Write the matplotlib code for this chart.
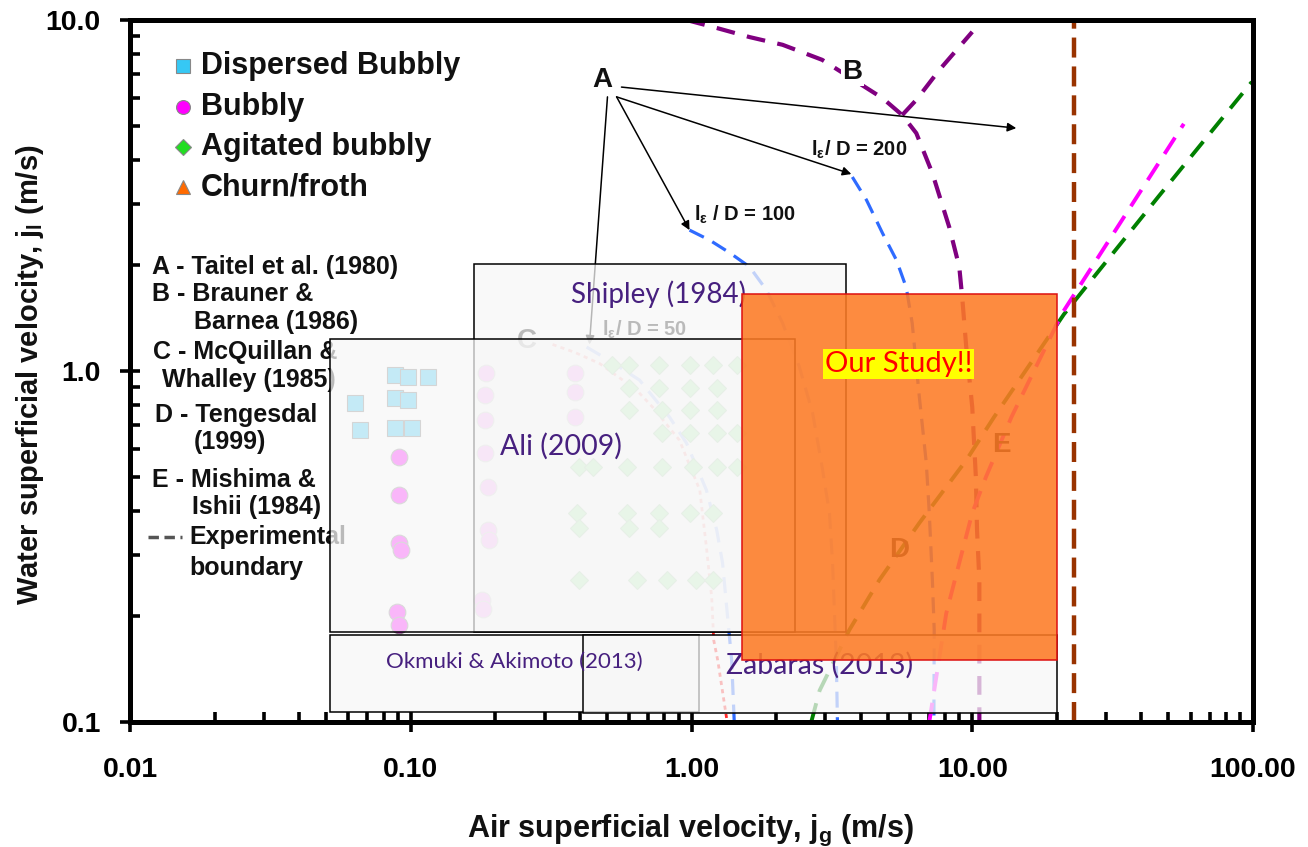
import matplotlib
matplotlib.use('Agg')
import matplotlib.pyplot as plt
from matplotlib.patches import Rectangle
from matplotlib.lines import Line2D
from matplotlib.ticker import NullFormatter, LogLocator

plt.rcParams['font.family'] = ['Liberation Sans', 'DejaVu Sans']
plt.rcParams['mathtext.fontset'] = 'custom'
plt.rcParams['mathtext.rm'] = 'Liberation Sans:bold'
plt.rcParams['mathtext.it'] = 'Liberation Sans:bold'
plt.rcParams['mathtext.bf'] = 'Liberation Sans:bold'

# --- observed regimes (jg, jl in m/s) ---
disp_jg = [0.0632, 0.0659, 0.0877, 0.0975, 0.115, 0.0877, 0.0975, 0.0877, 0.101]
disp_jl = [0.81, 0.68, 0.975, 0.96, 0.96, 0.838, 0.826, 0.69, 0.686]

bubbly_jg = [0.091, 0.091, 0.091, 0.092, 0.089, 0.091,
             0.186, 0.184, 0.184, 0.184, 0.188, 0.188, 0.190, 0.180, 0.181,
             0.384, 0.386, 0.384]
bubbly_jl = [0.569, 0.443, 0.324, 0.310, 0.206, 0.189,
             0.987, 0.855, 0.725, 0.583, 0.468, 0.352, 0.330, 0.223, 0.210,
             0.99, 0.87, 0.74]

agit_jg = [0.523, 0.601, 0.769, 0.984, 1.19, 1.45,
           0.601, 0.769, 0.984, 1.23,
           0.601, 0.788, 0.984, 1.23,
           0.788, 0.984, 1.23, 1.45,
           0.399, 0.444, 0.587, 0.788, 1.01, 1.23, 1.45,
           0.390, 0.587, 0.769, 0.984, 1.19,
           0.399, 0.601, 0.769,
           0.399, 0.637, 0.815, 1.04, 1.19]
agit_jl = [1.04] * 6 + [0.895] * 4 + [0.774] * 4 + [0.666] * 4 + \
          [0.532] * 7 + [0.394] * 5 + [0.357] * 3 + [0.254] * 5

# --- transition boundaries ---
taitel50_jg = [0.423, 0.511, 0.653, 0.835, 0.960, 1.13, 1.23, 1.29, 1.34, 1.39, 1.42]
taitel50_jl = [1.17, 1.07, 0.942, 0.739, 0.623, 0.458, 0.352, 0.284, 0.205, 0.150, 0.1]
taitel100_jg = [0.984, 1.16, 1.37, 1.61, 1.85, 2.11, 2.42, 2.70, 2.92, 3.10, 3.18, 3.23, 3.28, 3.31]
taitel100_jl = [2.52, 2.36, 2.17, 1.98, 1.70, 1.37, 1.03, 0.759, 0.532, 0.394, 0.284, 0.205, 0.150, 0.1]
taitel200_jg = [3.74, 4.20, 4.79, 5.37, 5.82, 6.11, 6.48, 6.86, 7.03, 7.21, 7.32, 7.30]
taitel200_jl = [3.57, 3.07, 2.47, 2.07, 1.73, 1.37, 0.843, 0.547, 0.394, 0.254, 0.183, 0.1]

mcq_jg = [0.320, 0.384, 0.471, 0.637, 0.727, 0.906, 1.07, 1.13, 1.18, 1.20, 1.24, 1.34]
mcq_jl = [1.19, 1.13, 1.05, 0.883, 0.789, 0.635, 0.458, 0.315, 0.227, 0.171, 0.150, 0.1]

brauner_jg = [0.96, 1.23, 1.61, 2.11, 2.92, 4.79, 5.63, 6.32, 7.21, 8.28, 8.99, 9.21,
              9.52, 10.0, 10.3, 10.4, 10.6, 10.6, 10.6, 10.6]
brauner_jl = [10.0, 9.49, 8.94, 8.5, 7.7, 5.99, 5.36, 4.76, 3.66, 2.57, 1.98, 1.62,
              1.17, 0.789, 0.499, 0.352, 0.254, 0.187, 0.147, 0.1]
brauner_db_jg = [5.63, 6.32, 7.64, 10.0]
brauner_db_jl = [5.36, 5.92, 7.21, 9.25]

tengesdal_jg = [2.67, 2.86, 3.65, 4.67, 6.48, 9.52, 11.97, 21.2, 46.2, 99.0]
tengesdal_jl = [0.1, 0.123, 0.183, 0.254, 0.369, 0.557, 0.74, 1.45, 3.15, 6.66]

mishima_jg = [7.03, 8.08, 8.99, 10.0, 11.2, 13.8, 20.9, 56.7]
mishima_jl = [0.1, 0.204, 0.284, 0.394, 0.50, 0.74, 1.46, 5.06]

exp_jg = [23.1, 23.1]
exp_jl = [0.1, 10.0]

# --- study ranges: (jg min, jg max), (jl min, jl max) ---
study_names = ['Shipley (1984)', 'Ali (2009)', 'Okmuki & Akimoto (2013)', 'Zabaras (2013)']
study_jg = [(0.168, 3.56), (0.0515, 2.33), (0.0515, 1.06), (0.41, 20.0)]
study_jl = [(0.18, 2.02), (0.18, 1.23), (0.107, 0.177), (0.106, 0.177)]
our_jg = (1.51, 20.0)
our_jl = (0.150, 1.66)

x_ticks = [0.01, 0.1, 1, 10, 100]
x_ticklabels = ['0.01', '0.10', '1.00', '10.00', '100.00']
y_ticks = [0.1, 1, 10]
y_ticklabels = ['0.1', '1.0', '10.0']

W, H = 1308, 847
fig = plt.figure(figsize=(W / 100, H / 100), dpi=100)
ax = fig.add_axes([130 / W, 1 - 722 / H, 1123 / W, 702 / H])
ax.set_xscale('log')
ax.set_yscale('log')
ax.set_xlim(0.01, 100)
ax.set_ylim(0.1, 10)

# boundaries
ax.plot(taitel50_jg, taitel50_jl, color='#2f6bff', lw=2.3, dashes=(5, 3), zorder=2)
ax.plot(taitel100_jg, taitel100_jl, color='#2f6bff', lw=2.3, dashes=(5, 3), zorder=2)
ax.plot(taitel200_jg, taitel200_jl, color='#2f6bff', lw=2.3, dashes=(5, 3), zorder=2)
ax.plot(mcq_jg, mcq_jl, color='#ff2a2a', lw=2, dashes=(1.5, 1.5), zorder=2)
ax.plot(brauner_jg, brauner_jl, color='#800080', lw=3, dashes=(4.5, 3), zorder=2)
ax.plot(brauner_db_jg, brauner_db_jl, color='#800080', lw=3, dashes=(4.5, 3), zorder=2)
ax.plot(tengesdal_jg, tengesdal_jl, color='#008000', lw=2.8, dashes=(5, 3), zorder=2)
ax.plot(mishima_jg, mishima_jl, color='#ff00ff', lw=2.8, dashes=(5, 3), zorder=2)
ax.plot(exp_jg, exp_jl, color='#993300', lw=3.2, dashes=(4.5, 2), zorder=2)

# data points
ax.plot(disp_jg, disp_jl, 's', ms=11, mfc='#36c8f4', mec='#777777', mew=0.8, zorder=3)
ax.plot(bubbly_jg, bubbly_jl, 'o', ms=12, mfc='#ff00ff', mec='#888888', mew=0.8, zorder=3)
ax.plot(agit_jg, agit_jl, 'D', ms=9, mfc='#22dd22', mec='#118811', mew=0.8, zorder=3)

# curve letters
bold = dict(fontweight='bold', color='#111111')
ax.text(0.482, 6.74, 'A', fontsize=20, ha='center', va='center', zorder=3, **bold)
ax.text(3.74, 7.11, 'B', fontsize=20, ha='center', va='center', zorder=3,
        bbox=dict(fc='white', ec='none', pad=1), **bold)
ax.text(0.259, 1.22, 'C', fontsize=20, ha='center', va='center', zorder=3, **bold)
ax.text(5.5, 0.309, 'D', fontsize=20, ha='center', va='center', zorder=3, **bold)
ax.text(12.7, 0.615, 'E', fontsize=20, ha='center', va='center', zorder=3, **bold)

# Taitel et al. arrows from label A
arrow = dict(arrowstyle='-|>', lw=1.1, color='black', mutation_scale=13, shrinkA=0, shrinkB=0)
ax.annotate('', xy=(14.35, 4.92), xytext=(0.563, 6.44), arrowprops=arrow, zorder=2)
ax.annotate('', xy=(3.71, 3.64), xytext=(0.541, 6.04), arrowprops=arrow, zorder=2)
ax.annotate('', xy=(0.984, 2.52), xytext=(0.541, 6.04), arrowprops=arrow, zorder=2)
ax.annotate('', xy=(0.433, 1.19), xytext=(0.502, 6.04), arrowprops=arrow, zorder=2)
ax.text(3.96, 4.26, r'l$_\epsilon$/ D = 200', fontsize=14.5, ha='center', va='center', zorder=3, **bold)
ax.text(1.55, 2.78, r'l$_\epsilon$ / D = 100', fontsize=14.5, ha='center', va='center', zorder=3, **bold)
ax.text(0.681, 1.31, r'l$_\epsilon$/ D = 50', fontsize=14.5, ha='center', va='center', zorder=3, **bold)

# regime legend (upper left)
legend_items = [('s', '#36c8f4', 'Dispersed Bubbly'), ('o', '#ff00ff', 'Bubbly'),
                ('D', '#22dd22', 'Agitated bubbly'), ('^', '#ff6a00', 'Churn/froth')]
for i, (mk, col, lab) in enumerate(legend_items):
    yy = 0.934 - i * 0.0575
    ax.plot([0.047], [yy], mk, ms=10 if mk != 'D' else 8, mfc=col, mec='#888888', mew=0.8,
            transform=ax.transAxes, zorder=3)
    ax.text(0.063, yy, lab, fontsize=22, ha='left', va='center', transform=ax.transAxes,
            zorder=3, **bold)

# boundary key
key_lines = [(0.0196, 0.648, 'A - Taitel et al. (1980)'), (0.0196, 0.609, 'B - Brauner &'),
             (0.057, 0.570, 'Barnea (1986)'), (0.0205, 0.527, 'C - McQuillan &'),
             (0.0285, 0.487, 'Whalley (1985)'), (0.0223, 0.438, 'D - Tengesdal'),
             (0.057, 0.399, '(1999)'), (0.0196, 0.345, 'E - Mishima &'),
             (0.055, 0.306, 'Ishii (1984)'), (0.053, 0.2635, 'Experimental'),
             (0.053, 0.219, 'boundary')]
for kx, ky, kt in key_lines:
    ax.text(kx, ky, kt, fontsize=18, ha='left', va='center', transform=ax.transAxes,
            zorder=3, **bold)
ax.add_line(Line2D([0.016, 0.046], [0.2635, 0.2635], color='#555555', lw=2.5,
                   dashes=(3, 1.6), transform=ax.transAxes, zorder=3))

# study ranges
label_pos = [(0.763, 1.65), (0.344, 0.611), (0.233, 0.148), (2.86, 0.145)]
label_size = [20, 20.5, 16, 20.5]
for k, (name, (x0, x1), (y0, y1)) in enumerate(zip(study_names, study_jg, study_jl)):
    z = 5 + k
    ax.add_patch(Rectangle((x0, y0), x1 - x0, y1 - y0, fc=(0.968, 0.968, 0.968, 0.74),
                           ec='black', lw=1.1, zorder=z))
    tz = z + 0.5 if k != 2 else 8.5
    ax.text(label_pos[k][0], label_pos[k][1], name, fontsize=label_size[k], family='Lato',
            color='#47207f', ha='center', va='center', zorder=tz)

ax.add_patch(Rectangle((our_jg[0], our_jl[0]), our_jg[1] - our_jg[0], our_jl[1] - our_jl[0],
                       fc=(0.992, 0.482, 0.145, 0.88), ec='#dd1010', lw=1.1, zorder=9))
ax.text(5.46, 1.05, 'Our Study!!', fontsize=21, family='Lato', color='red', ha='center',
        va='center', zorder=10, bbox=dict(fc='yellow', ec='none', pad=1.5))

# axes styling
for sp in ax.spines.values():
    sp.set_linewidth(3.6)
    sp.set_zorder(11)
ax.set_xticks(x_ticks, x_ticklabels)
ax.set_yticks(y_ticks, y_ticklabels)
ax.xaxis.set_minor_locator(LogLocator(subs=range(2, 10)))
ax.yaxis.set_minor_locator(LogLocator(subs=range(2, 10)))
ax.xaxis.set_minor_formatter(NullFormatter())
ax.yaxis.set_minor_formatter(NullFormatter())
ax.tick_params(which='major', direction='inout', length=14, width=2.6, labelsize=20.5)
ax.tick_params(which='minor', direction='in', length=7, width=2.6)
ax.tick_params(axis='x', which='major', pad=18)
ax.tick_params(axis='y', which='major', pad=14)
for t in ax.get_xticklabels() + ax.get_yticklabels():
    t.set_fontweight('bold')

fig.text(30 / W, 1 - 375 / H, r'Water superficial velocity, j$_\mathrm{l}$ (m/s)',
         rotation=90, fontsize=21, ha='center', va='center', **bold)
fig.text(690 / W, 1 - 830 / H, r'Air superficial velocity, j$_\mathrm{g}$ (m/s)',
         fontsize=22, ha='center', va='center', **bold)

fig.savefig('out.png', dpi=100)
